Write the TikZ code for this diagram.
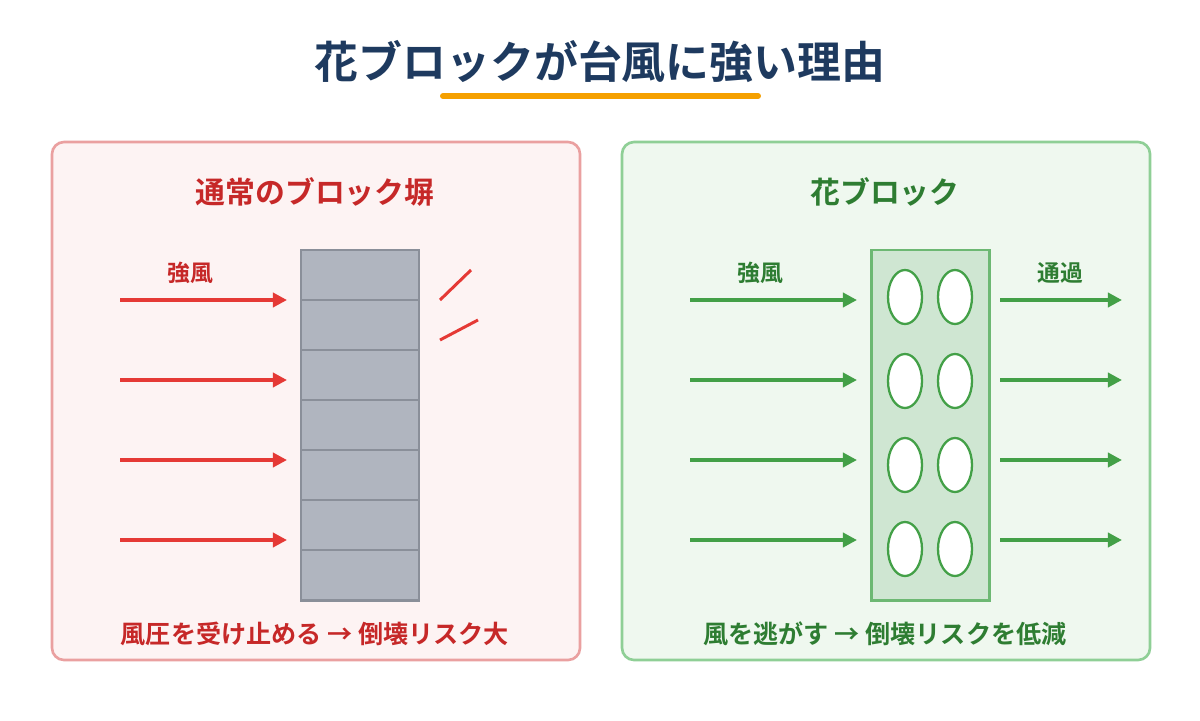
\documentclass[tikz,border=0pt]{standalone}
\usepackage{fontspec}
\setmainfont{Noto Sans CJK JP}[BoldFont={* Bold}]
\usetikzlibrary{arrows.meta}
\definecolor{navy}{HTML}{1E3A5F}
\definecolor{orng}{HTML}{F5A000}
\definecolor{rd}{HTML}{C62828}
\definecolor{rda}{HTML}{E53935}
\definecolor{gr}{HTML}{2E7D32}
\definecolor{gra}{HTML}{43A047}
\definecolor{wallf}{RGB}{176,181,191}
\definecolor{walld}{RGB}{138,143,153}
\definecolor{lpf}{RGB}{253,243,243}
\definecolor{lpd}{RGB}{234,160,160}
\definecolor{rpf}{RGB}{239,248,239}
\definecolor{rpd}{RGB}{143,207,150}
\definecolor{hbf}{RGB}{207,230,210}
\definecolor{hbd}{RGB}{109,184,115}
\tikzset{
 panel/.style={rounded corners=12*0.02cm, line width=1.5pt},
 rarr/.style={draw=rda, line width=2.2pt, -{Triangle[length=8pt,width=8pt]}},
 garr/.style={draw=gra, line width=2.2pt, -{Triangle[length=8pt,width=8pt]}},
 lbl/.style={font=\bfseries\fontsize{13}{15}\selectfont},
 ptitle/.style={font=\bfseries\fontsize{17}{19}\selectfont},
 pfoot/.style={font=\bfseries\fontsize{14.3}{16}\selectfont},
}
\begin{document}
\begin{tikzpicture}[x=0.02cm,y=-0.02cm]
\useasboundingbox (0,0) rectangle (1200,720);
\fill[white] (0,0) rectangle (1200,720);
\node[font=\bfseries\fontsize{25}{28}\selectfont, text=navy] (title) at (600,62) {花ブロックが台風に強い理由};
\draw[orng, line width=6*0.567pt, line cap=round] (443,96) -- (758,96);
% left
\draw[panel, draw=lpd, fill=lpf] (52,142) rectangle (580,660);
\node[ptitle, text=rd] (lt) at (315,192) {通常のブロック塀};
\draw[fill=wallf, draw=walld, line width=1.7pt] (301,250) rectangle (419,600);
\foreach \y in {300,350,400,450,500,550}
 \draw[walld, line width=0.8pt] (301,\y) -- (419,\y);
\node[lbl, text=rd] (lw) at (190,273) {強風};
\foreach \y [count=\i] in {300,380,460,540} {
 \coordinate (ls\i) at (120,\y); \coordinate (le\i) at (287,\y);
 \draw[rarr] (ls\i) -- (le\i);
}
\draw[rda, line width=1.7pt] (440,300) -- (471,270);
\draw[rda, line width=1.7pt] (440,340) -- (478,320);
\node[pfoot, text=rd] (lb) at (315,634) {風圧を受け止める → 倒壊リスク大};
% right
\draw[panel, draw=rpd, fill=rpf] (622,142) rectangle (1150,660);
\node[ptitle, text=gr] (rt) at (885,192) {花ブロック};
\draw[fill=hbf, draw=hbd, line width=1.7pt] (871,250) rectangle (989,600);
\foreach \y in {297,381,465,549}
 \foreach \x in {905,955}
  \draw[fill=white, draw=gra, line width=1.3pt] (\x,\y) ellipse [x radius=17, y radius=27];
\node[lbl, text=gr] (rw) at (760,273) {強風};
\node[lbl, text=gr] (rp) at (1060,273) {通過};
\foreach \y [count=\i] in {300,380,460,540} {
 \coordinate (a\i) at (690,\y); \coordinate (b\i) at (857,\y);
 \coordinate (c\i) at (1000,\y); \coordinate (d\i) at (1122,\y);
 \draw[garr] (a\i) -- (b\i);
 \draw[garr] (c\i) -- (d\i);
}
\node[pfoot, text=gr] (rb) at (885,634) {風を逃がす → 倒壊リスクを低減};
\end{tikzpicture}
\end{document}
